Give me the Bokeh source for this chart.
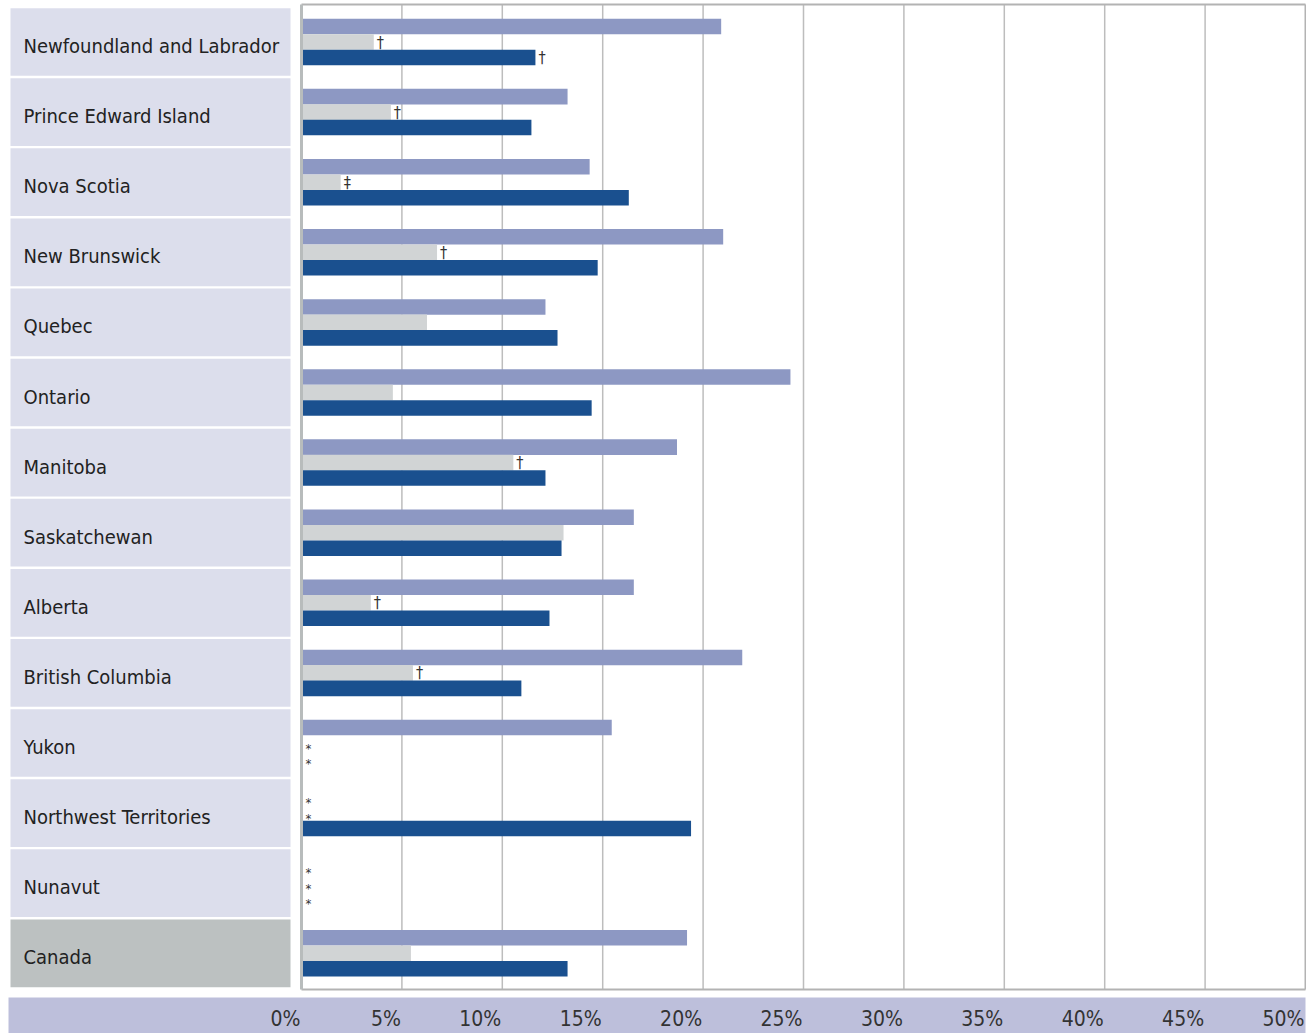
from bokeh.plotting import figure
from bokeh.models import Range1d
from bokeh.core.properties import value
from bokeh.embed import file_html
from bokeh.resources import INLINE

# ---------------- data ----------------
regions = ["Newfoundland and Labrador", "Prince Edward Island", "Nova Scotia",
           "New Brunswick", "Quebec", "Ontario", "Manitoba", "Saskatchewan",
           "Alberta", "British Columbia", "Yukon", "Northwest Territories",
           "Nunavut", "Canada"]
series_a = [20.9, 13.25, 14.35, 21.0, 12.15, 24.35, 18.7, 16.55, 16.55, 21.95, 15.45, None, None, 19.2]
series_b = [3.6, 4.45, 1.95, 6.75, 6.25, 4.55, 10.55, 13.05, 3.45, 5.55, None, None, None, 5.45]
series_c = [11.65, 11.45, 16.3, 14.75, 12.75, 14.45, 12.15, 12.95, 12.35, 10.95, None, 19.4, None, 13.25]
flags_a = ["", "", "", "", "", "", "", "", "", "", "", "", "", ""]
flags_b = ["†", "†", "‡", "†", "", "", "†", "", "†", "†", "", "", "", ""]
flags_c = ["†", "", "", "", "", "", "", "", "", "", "", "", "", ""]
ticks = [0, 5, 10, 15, 20, 25, 30, 35, 40, 45, 50]
tick_labels = [f"{t}%" for t in ticks]

# ---------------- style ----------------
FONT = value("DejaVu Sans Condensed, Roboto, sans-serif")
C_A, C_B, C_C = "#8d98c3", "#d1d4d5", "#1a508f"
LABEL_BG, TOTAL_BG, BAND = "#dcdeec", "#bcc1c1", "#bdbfdb"
GRID = "#bdbdbd"
OFF = 0.221  # bar pitch in row units
BH = 0.222

W, H = 1306, 1033
PX = 20.08          # px per percent
X0 = 301            # px of 0% inside the figure
RY = 70.1           # px per row
Y0 = 41.5           # px of first row centre inside the figure
x_start = -X0 / PX
x_end = (W - X0) / PX
y_top = -Y0 / RY
y_bot = (H - Y0) / RY
plot_top = (4 - Y0) / RY
plot_bottom = (989 - Y0) / RY
band_top = (997 - Y0) / RY
lab_left = (10 - X0) / PX
lab_right = (290 - X0) / PX

p = figure(width=W, height=H, x_range=Range1d(x_start, x_end), y_range=Range1d(y_bot, y_top),
           output_backend="svg", toolbar_location=None, tools="", min_border=0)
p.axis.visible = False
p.grid.visible = False
p.outline_line_color = None
p.background_fill_color = "white"

n = len(regions)
rows = list(range(n))

# label boxes
gap = 1.2 / RY
p.quad(left=[lab_left] * n, right=[lab_right] * n,
       top=[r - 0.5 + gap for r in rows], bottom=[r + 0.5 - gap for r in rows],
       fill_color=[TOTAL_BG if reg == "Canada" else LABEL_BG for reg in regions],
       line_color=None)
p.text(x=[(23 - X0) / PX] * n, y=rows, text=regions, text_font=FONT,
       text_font_size="20px", text_color="#222222", text_baseline="middle", y_offset=4)

# grid lines
p.segment(x0=ticks[1:-1], x1=ticks[1:-1], y0=[plot_top] * (len(ticks) - 2), y1=[plot_bottom] * (len(ticks) - 2),
          line_color=GRID, line_width=1.5)

# bars
for vals, flags, off, col in [(series_a, flags_a, -OFF, C_A), (series_b, flags_b, 0, C_B), (series_c, flags_c, OFF, C_C)]:
    ys = [r + off for r, v in zip(rows, vals) if v is not None]
    vs = [v for v in vals if v is not None]
    p.hbar(y=ys, left=0, right=vs, height=BH, fill_color=col, line_color=None)
    fy = [r + off for r, v, f in zip(rows, vals, flags) if v is not None and f]
    fx = [v for v, f in zip(vals, flags) if v is not None and f]
    ft = [f for v, f in zip(vals, flags) if v is not None and f]
    p.text(x=fx, y=fy, text=ft, text_font=FONT, text_font_size="16px", text_color="#333333",
           text_baseline="middle", x_offset=3, y_offset=0)
    my = [r + off for r, v in zip(rows, vals) if v is None]
    p.text(x=[0] * len(my), y=my, text=["*"] * len(my), text_font=FONT, text_font_size="13px",
           text_color="#333333", text_baseline="middle", x_offset=4, y_offset=5)

# frame borders
p.segment(x0=[0, 0, 0, 50], x1=[50, 50, 0, 50], y0=[plot_top, plot_bottom, plot_top, plot_top],
          y1=[plot_top, plot_bottom, plot_bottom, plot_bottom],
          line_color=["#b3b3b3", "#b3b3b3", "#b8bcbc", "#b3b3b3"], line_width=[2, 2, 3, 2])

# axis band
p.quad(left=[(8 - X0) / PX], right=[50], top=[band_top], bottom=[y_bot], fill_color=BAND, line_color=None)
p.text(x=ticks, y=[(1018 - Y0) / RY] * len(ticks), text=tick_labels, text_font=FONT,
       text_font_size="21px", text_color="#333333", text_align="right", text_baseline="middle", x_offset=-1)

open("out.html", "w").write(file_html(p, INLINE))
